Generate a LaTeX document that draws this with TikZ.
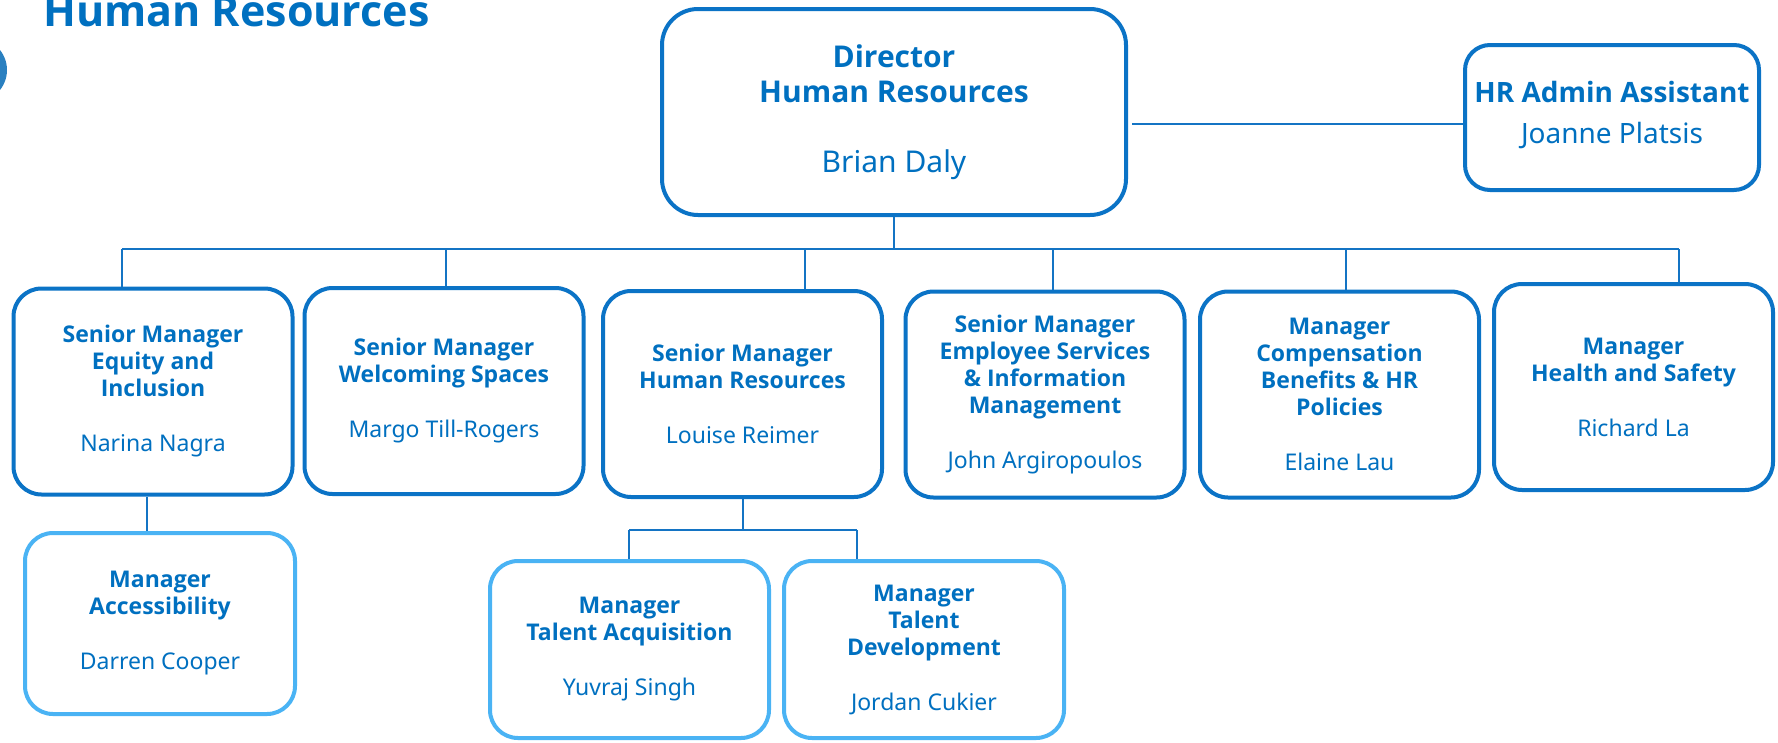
\documentclass[tikz,border=0pt]{standalone}
\usepackage{fontspec}
\setmainfont{Noto Sans}[BoldFont={Open Sans Bold}]
\definecolor{boxblue}{HTML}{0B73C6}
\definecolor{lightblue}{HTML}{4AB3F4}
\definecolor{textblue}{HTML}{0070C0}
\definecolor{lineblue}{HTML}{1474C4}
\definecolor{dotblue}{HTML}{2A80C0}
\tikzset{
  box/.style={draw=boxblue, line width=4pt, rounded corners=28pt, fill=white,
    align=center, text=textblue, inner sep=0pt,
    minimum width=279pt, minimum height=206pt,
    font=\fontsize{23}{27}\selectfont\bfseries},
  lbox/.style={box, draw=lightblue},
  conn/.style={draw=lineblue, line width=2pt},
}
\begin{document}
\begin{tikzpicture}[x=1pt,y=-1pt]
\useasboundingbox (0,0) rectangle (1778,742);
% title and dot
\node[anchor=base west, text=textblue, inner sep=0pt,
      font=\fontsize{43}{50}\selectfont\bfseries] (title) at (43,26) {Human Resources};
\node[circle, fill=dotblue, minimum size=64pt, inner sep=0pt] (dot) at (-25,70) {};
% top boxes
\node[box, minimum width=464pt, minimum height=206pt, rounded corners=36pt,
      font=\fontsize{30}{35}\selectfont\bfseries] (dir) at (894,112)
  {Director\\Human Resources\\[35pt]{\mdseries Brian Daly}};
\node[box, minimum width=294pt, minimum height=145pt, rounded corners=25pt,
      font=\fontsize{28}{34}\selectfont\bfseries] (adm) at (1612,117.5)
  {HR Admin Assistant\\[7pt]{\mdseries Joanne Platsis}\\[-24pt]\mbox{}};
% second row
\node[box] (b1) at (153,391.5) {Senior Manager\\Equity and\\Inclusion\\[28pt]{\mdseries Narina Nagra}};
\node[box] (b2) at (444,391) {Senior Manager\\Welcoming Spaces\\[28pt]{\mdseries Margo Till-Rogers}};
\node[box] (b3) at (742.5,394) {Senior Manager\\Human Resources\\[28pt]{\mdseries Louise Reimer}};
\node[box] (b4) at (1045,394.5) {Senior Manager\\Employee Services\\\& Information\\Management\\[28pt]{\mdseries John Argiropoulos}};
\node[box] (b5) at (1339.5,394.5) {Manager\\Compensation\\Benefits \& HR\\Policies\\[28pt]{\mdseries Elaine Lau}};
\node[box] (b6) at (1633.5,387) {Manager\\Health and Safety\\[28pt]{\mdseries Richard La}};
% third row
\node[lbox, minimum width=270pt, minimum height=181pt] (acc) at (160,623.5) {Manager\\Accessibility\\[28pt]{\mdseries Darren Cooper}};
\node[lbox, minimum width=279pt, minimum height=177pt] (ta) at (629.5,649.5) {Manager\\Talent Acquisition\\[28pt]{\mdseries Yuvraj Singh}};
\node[lbox, minimum width=280pt, minimum height=177pt] (td) at (924,649.5) {Manager\\Talent\\Development\\[28pt]{\mdseries Jordan Cukier}};
% connectors
\coordinate (admw) at ([yshift=-6.5pt]adm.west);
\draw[conn] (admw) -- ([xshift=4pt]admw -| dir.east);
\foreach \n/\x in {b1/122,b2/446,b3/805,b4/1053,b5/1346,b6/1679}{
  \coordinate (d\n) at (\x,249);
  \draw[conn] (d\n) -- (d\n |- \n.north);
}
\draw[conn] (db1) -- (db6);
\draw[conn] (dir.south) -- (dir.south |- db1);
\coordinate (ea) at (147,0);
\draw[conn] (ea |- b1.south) -- (ea |- acc.north);
\coordinate (tl) at (629,530);
\coordinate (tr) at (857,530);
\draw[conn] (b3.south) -- (b3.south |- tl);
\draw[conn] (tl) -- (tr);
\draw[conn] (tl) -- (tl |- ta.north);
\draw[conn] (tr) -- (tr |- td.north);
\end{tikzpicture}
\end{document}
